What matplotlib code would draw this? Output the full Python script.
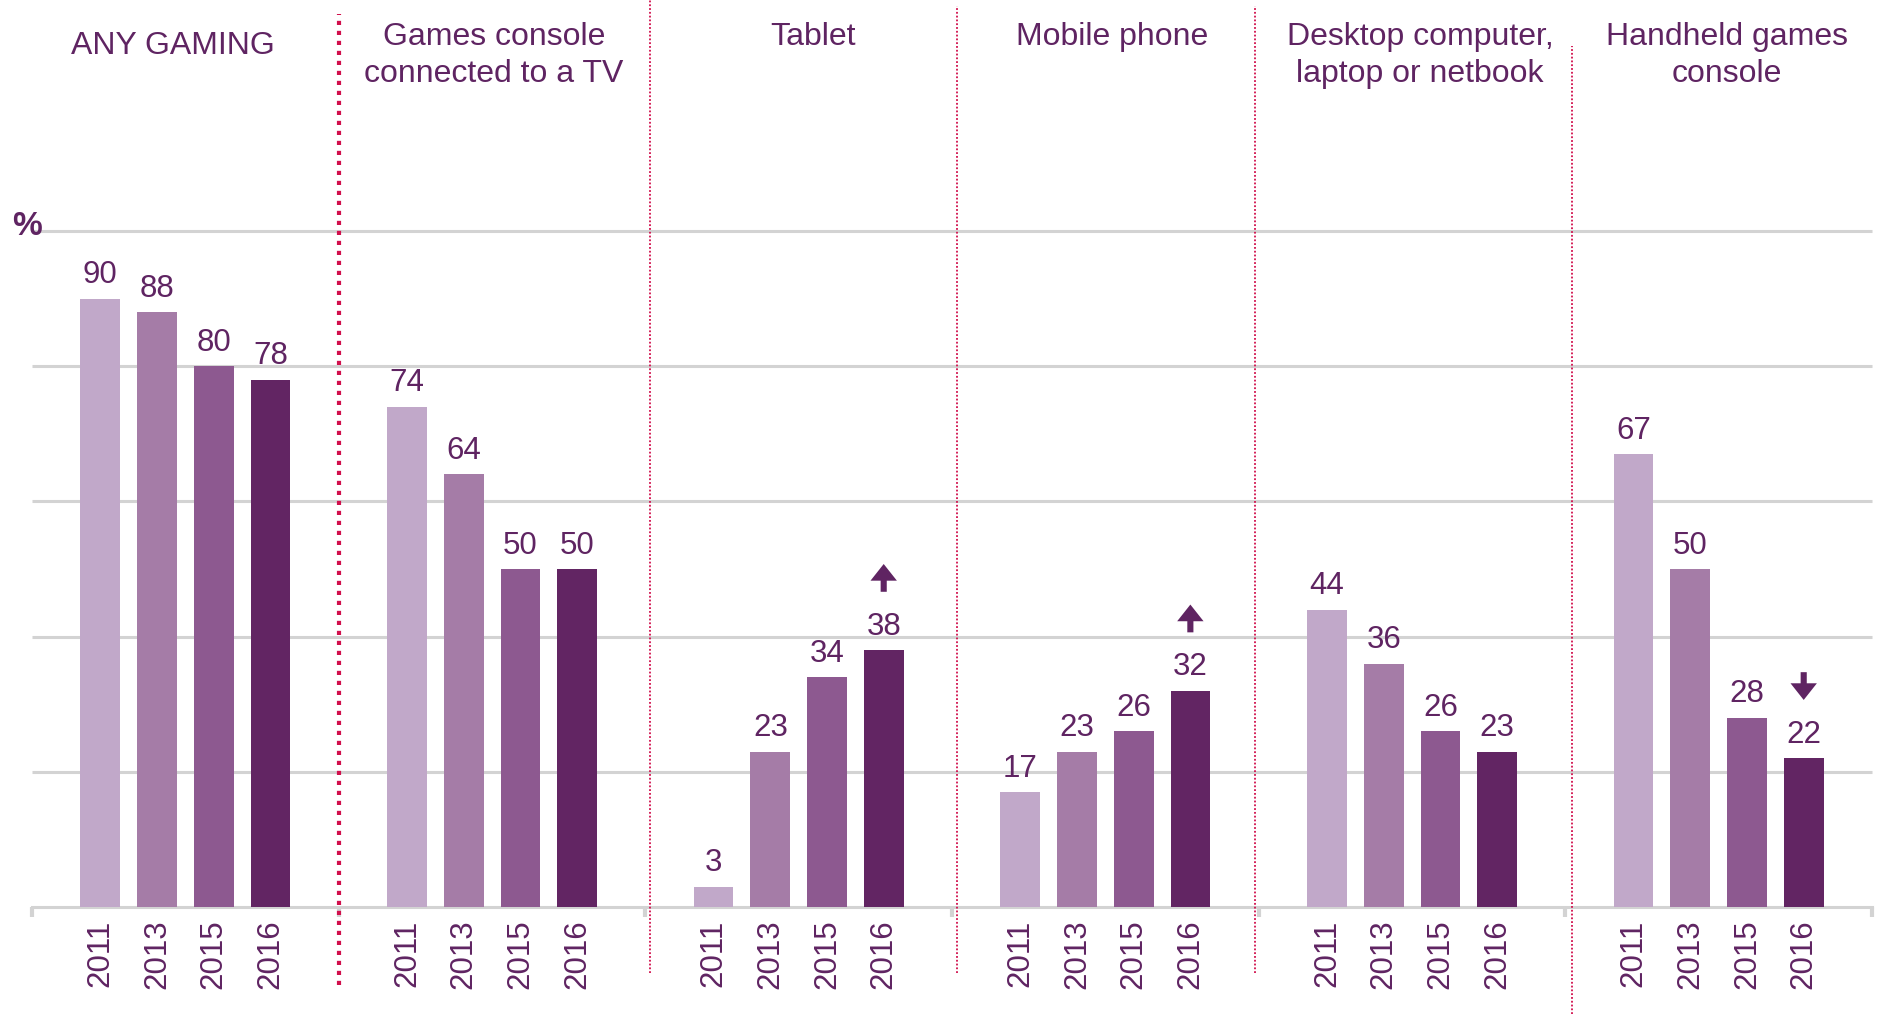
import numpy as np
import matplotlib
matplotlib.use("Agg")
import matplotlib.pyplot as plt
from matplotlib.transforms import offset_copy, blended_transform_factory

plt.rcParams['font.family'] = ['Liberation Sans', 'DejaVu Sans']

categories = ['ANY GAMING', 'Games console\nconnected to a TV', 'Tablet', 'Mobile phone',
              'Desktop computer,\nlaptop or netbook', 'Handheld games\nconsole']
years = ['2011', '2013', '2015', '2016']
v2011 = [90, 74, 3, 17, 44, 67]
v2013 = [88, 64, 23, 23, 36, 50]
v2015 = [80, 50, 34, 26, 26, 28]
v2016 = [78, 50, 38, 32, 23, 22]
changes = [None, None, 'up', 'up', None, 'down']

bar_colors = ['#c1a8c9', '#a57ca7', '#8d5990', '#622563']
text_col = '#5f2462'
grid_col = '#d3d3d3'
sep_col = '#d10f4c'

fig = plt.figure(figsize=(18.78, 10.14), dpi=100)
ax = fig.add_axes([0.01704, 0.10552, 0.97977, 0.66667])

group_w = 5.41
centers = np.arange(len(categories)) * group_w
offsets = np.arange(len(years)) - 1.5
bounds = np.arange(len(categories) + 1) * group_w - group_w / 2

series = [v2011, v2013, v2015, v2016]
for i, vals in enumerate(series):
    xs = centers + offsets[i]
    ax.bar(xs, vals, width=0.7, color=bar_colors[i], zorder=3)
    for x, v in zip(xs, vals):
        ax.annotate(str(v), (x, v), xytext=(0, 11), textcoords='offset points',
                    ha='center', va='baseline', fontsize=22.5, color=text_col)

# trend arrows above 2016 bars
for g, ch in enumerate(changes):
    if ch is None:
        continue
    x = centers[g] + offsets[3]
    y = v2016[g]
    lo = offset_copy(ax.transData, fig=fig, x=0, y=42, units='points')
    hi = offset_copy(ax.transData, fig=fig, x=0, y=62, units='points')
    tip, tail = (hi, lo) if ch == 'up' else (lo, hi)
    ax.annotate('', xy=(x, y), xycoords=tip, xytext=(x, y), textcoords=tail,
                arrowprops=dict(arrowstyle='simple,head_length=0.6,head_width=0.95,tail_width=0.22',
                                mutation_scale=20, color=text_col, lw=0,
                                shrinkA=0, shrinkB=0))

ax.set_xlim(bounds[0], bounds[-1])
ax.set_ylim(0, 100)

ax.hlines([20, 40, 60, 80, 100], bounds[0], bounds[-1], color=grid_col, lw=2.2,
          zorder=1, clip_on=False)

for s in ['top', 'left', 'right']:
    ax.spines[s].set_visible(False)
ax.spines['bottom'].set_color(grid_col)
ax.spines['bottom'].set_linewidth(2.2)
ax.set_yticks([])

ax.set_xticks((centers[:, None] + offsets[None, :]).ravel())
ax.set_xticklabels(years * len(categories), rotation=90, fontsize=22.5, color=text_col)
ax.tick_params(axis='x', which='major', length=0, pad=9)
ax.set_xticks(bounds, minor=True)
ax.tick_params(axis='x', which='minor', length=7.5, width=3, color=grid_col, direction='out')

# group titles (small horizontal nudges in pixels, as in the original)
title_dx = [-12, 2, 14, 7, 8, 8]
for g, name in enumerate(categories):
    xf = (ax.transData.transform((centers[g], 0))[0] + title_dx[g]) / fig.bbox.width
    ytop = 0.969 if g == 0 else 0.978
    fig.text(xf, ytop, name, ha='center', va='top', fontsize=23, color=text_col,
             linespacing=1.3)

fig.text(0.0144, 0.777, '%', ha='center', va='center', fontsize=24,
         fontweight='bold', color=text_col)

# dotted separators between groups
sep_top = [0.986, 1.0, 0.994, 0.994, 0.955]
sep_bot = [0.029, 0.040, 0.040, 0.040, 0.0]
sep_dx = [0, 5, 5, -4, 7]
for k, b in enumerate(bounds[1:-1]):
    tr = blended_transform_factory(
        offset_copy(ax.transData, fig=fig, x=sep_dx[k], y=0, units='dots'), fig.transFigure)
    if k == 0:
        ax.plot([b, b], [sep_bot[k], sep_top[k]], transform=tr, color=sep_col,
                lw=3, ls=(0, (1, 1.4)), clip_on=False, zorder=4)
    else:
        ax.plot([b, b], [sep_bot[k], sep_top[k]], transform=tr, color=sep_col,
                lw=1.3, ls=(0, (1, 1.1)), clip_on=False, zorder=4)

fig.savefig('out.png', dpi=100)
